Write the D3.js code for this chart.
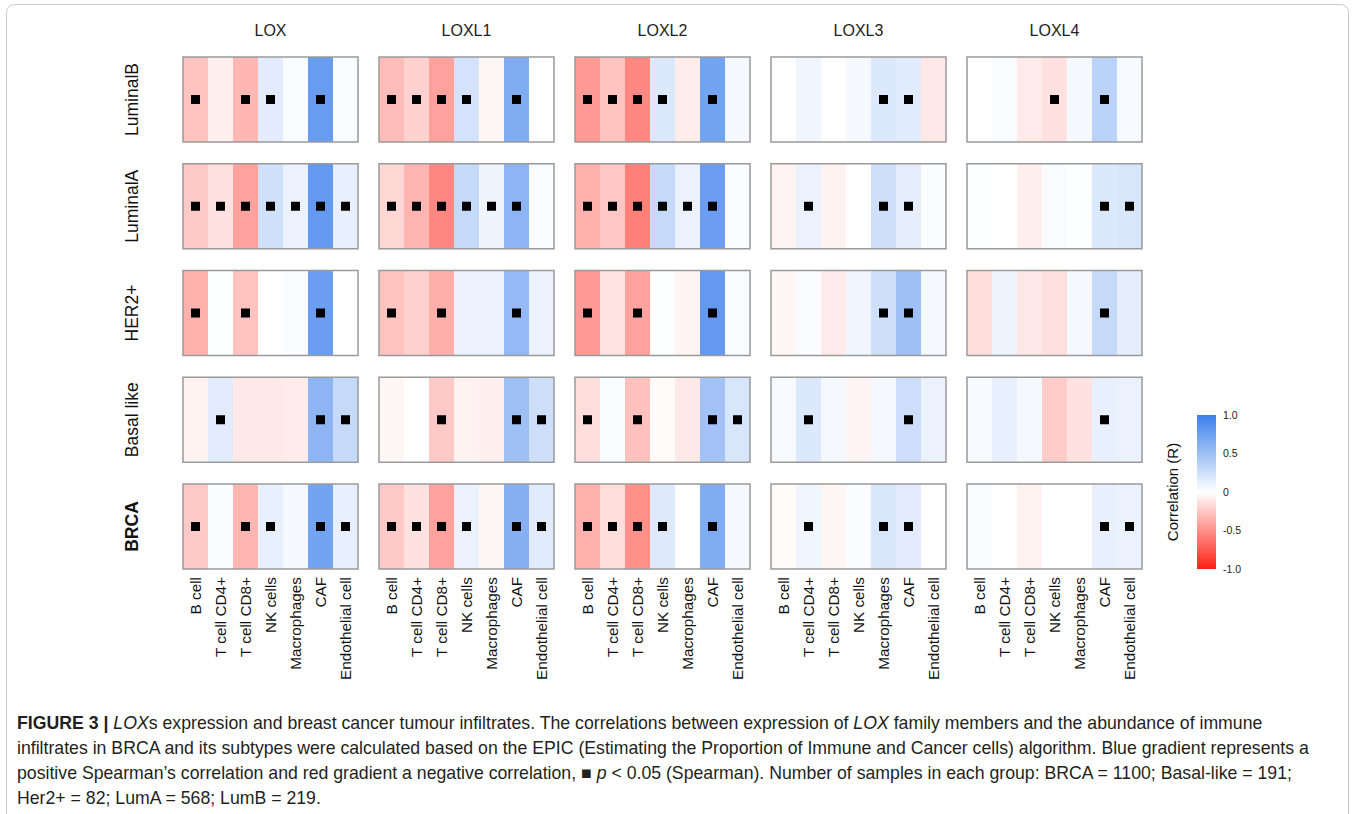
<!DOCTYPE html>
<html><head><meta charset="utf-8">
<script src="https://cdn.jsdelivr.net/npm/d3@7"></script>
<style>
body{margin:0;background:#fff;}
svg text{font-family:"Liberation Sans",Arial,Helvetica,sans-serif;}
</style></head>
<body><svg id="c" width="1355" height="814"></svg>
<script>
const genes = ["LOX","LOXL1","LOXL2","LOXL3","LOXL4"];
const subtypes = ["LuminalB","LuminalA","HER2+","Basal like","BRCA"];
const cells = ["B cell","T cell CD4+","T cell CD8+","NK cells","Macrophages","CAF","Endothelial cell"];
const legendTicks = [1.0,0.5,0,-0.5,-1.0];
const legendTickLabels = ["1.0","0.5","0","-0.5","-1.0"];

// correlation values [subtype][gene][cell]
const rLuminalB = [
  [-0.27,-0.07,-0.32, 0.15, 0.03, 0.78, 0.02],
  [-0.30,-0.20,-0.42, 0.22,-0.04, 0.65, 0.00],
  [-0.45,-0.27,-0.53, 0.18,-0.08, 0.72, 0.05],
  [ 0.00, 0.07, 0.00, 0.05, 0.18, 0.16,-0.10],
  [ 0.00, 0.02,-0.09,-0.13, 0.05, 0.35, 0.04]];
const rLuminalA = [
  [-0.24,-0.13,-0.42, 0.24, 0.10, 0.80, 0.12],
  [-0.18,-0.33,-0.53, 0.30, 0.08, 0.58, 0.03],
  [-0.35,-0.25,-0.57, 0.30, 0.10, 0.76, 0.02],
  [-0.05, 0.10,-0.06, 0.00, 0.25, 0.13, 0.02],
  [ 0.01, 0.00,-0.07, 0.03, 0.01, 0.18, 0.20]];
const rHER2 = [
  [-0.35, 0.01,-0.27, 0.00, 0.02, 0.76, 0.00],
  [-0.27,-0.20,-0.36, 0.10, 0.10, 0.55, 0.10],
  [-0.45,-0.12,-0.42, 0.01,-0.05, 0.80, 0.03],
  [-0.04, 0.02,-0.09, 0.07, 0.25, 0.50, 0.05],
  [-0.15, 0.09,-0.10,-0.14, 0.05, 0.30, 0.13]];
const rBasal = [
  [-0.06, 0.15,-0.10,-0.10,-0.09, 0.58, 0.30],
  [-0.04, 0.00,-0.24,-0.06,-0.07, 0.50, 0.25],
  [-0.15, 0.02,-0.28,-0.02,-0.10, 0.47, 0.20],
  [ 0.04, 0.18, 0.05,-0.05, 0.05, 0.26, 0.10],
  [ 0.04, 0.12, 0.05,-0.23,-0.13, 0.12, 0.10]];
const rBRCA = [
  [-0.24, 0.02,-0.33, 0.12, 0.05, 0.72, 0.12],
  [-0.24,-0.13,-0.42, 0.10,-0.04, 0.62, 0.16],
  [-0.35,-0.15,-0.50, 0.17, 0.00, 0.65, 0.05],
  [-0.02, 0.07,-0.04, 0.02, 0.20, 0.15, 0.00],
  [ 0.03, 0.00,-0.06, 0.00, 0.00, 0.12, 0.10]];

// significance (p<0.05) flags [subtype][gene][cell]
const sLuminalB = [
  [1,0,1,1,0,1,0],[1,1,1,1,0,1,0],[1,1,1,1,0,1,0],[0,0,0,0,1,1,0],[0,0,0,1,0,1,0]];
const sLuminalA = [
  [1,1,1,1,1,1,1],[1,1,1,1,1,1,0],[1,1,1,1,1,1,0],[0,1,0,0,1,1,0],[0,0,0,0,0,1,1]];
const sHER2 = [
  [1,0,1,0,0,1,0],[1,0,1,0,0,1,0],[1,0,1,0,0,1,0],[0,0,0,0,1,1,0],[0,0,0,0,0,1,0]];
const sBasal = [
  [0,1,0,0,0,1,1],[0,0,1,0,0,1,1],[1,0,1,0,0,1,1],[0,1,0,0,0,1,0],[0,0,0,0,0,1,0]];
const sBRCA = [
  [1,0,1,1,0,1,1],[1,1,1,1,0,1,1],[1,1,1,1,0,1,0],[0,1,0,0,1,1,0],[0,0,0,0,0,1,1]];

const rAll = [rLuminalB, rLuminalA, rHER2, rBasal, rBRCA];
const sAll = [sLuminalB, sLuminalA, sHER2, sBasal, sBRCA];

const svg = d3.select("#c");

// outer frame
svg.append("rect").attr("x",6.5).attr("y",4.5).attr("width",1342).attr("height",830)
  .attr("rx",8).attr("fill","none").attr("stroke","#c8c8c8").attr("stroke-width",1);

const color = d3.scaleLinear().domain([-1,0,1])
  .range(["rgb(255,32,20)","#ffffff","rgb(60,128,235)"]).interpolate(d3.interpolateRgb);

const panelW = 175, panelH = 85;
const gx = d3.scaleBand().domain(genes).range([183, 183 + 5*panelW + 4*21]).paddingInner(21/196).paddingOuter(0);
const gy = d3.scaleBand().domain(subtypes).range([57, 57 + 5*panelH + 4*21.75]).paddingInner(21.75/106.75).paddingOuter(0);
const cx = d3.scaleBand().domain(cells).range([0, gx.bandwidth()]);

subtypes.forEach((st, si) => {
  genes.forEach((g, gi) => {
    const p = svg.append("g").attr("transform", `translate(${gx(g)},${gy(st)})`);
    p.selectAll("rect.cell").data(cells).enter().append("rect")
      .attr("x", c => cx(c)).attr("y", 0)
      .attr("width", cx.bandwidth()+0.3).attr("height", gy.bandwidth())
      .attr("fill", (c, ci) => color(rAll[si][gi][ci]));
    p.selectAll("rect.sig").data(cells.filter((c, ci) => sAll[si][gi][ci])).enter().append("rect")
      .attr("x", c => cx(c) + cx.bandwidth()/2 - 4.5).attr("y", gy.bandwidth()/2 - 4.5)
      .attr("width", 9).attr("height", 9).attr("fill", "#000");
    p.append("rect").attr("x",0).attr("y",0).attr("width",gx.bandwidth()).attr("height",gy.bandwidth())
      .attr("fill","none").attr("stroke","#9a9a9a").attr("stroke-width",1.5);
  });
});

// column titles
svg.selectAll("text.gene").data(genes).enter().append("text")
  .attr("x", g => gx(g) + gx.bandwidth()/2).attr("y", 36)
  .attr("text-anchor","middle").attr("font-size",16).attr("fill","#222").text(g => g);

// row labels
svg.selectAll("text.st").data(subtypes).enter().append("text")
  .attr("transform", s => `translate(138,${gy(s)+gy.bandwidth()/2}) rotate(-90)`)
  .attr("text-anchor","middle").attr("font-size",17.5)
  .attr("font-weight", s => s === "BRCA" ? "bold" : "normal")
  .attr("fill","#111").text(s => s);

// x tick labels via axis
genes.forEach(g => {
  const ax = d3.axisBottom(cx).tickSize(0).tickPadding(0);
  const gg = svg.append("g").attr("transform", `translate(${gx(g)},${gy("BRCA")+gy.bandwidth()})`).call(ax);
  gg.select(".domain").remove();
  gg.selectAll("text").attr("transform","rotate(-90)").attr("x",-8).attr("y",0).attr("dy","0.35em")
    .attr("text-anchor","end").attr("font-size",15.3).attr("fill","#111")
    .attr("font-family",'"Liberation Sans",Arial,sans-serif');
});

// legend
const defs = svg.append("defs");
const grad = defs.append("linearGradient").attr("id","lg").attr("x1",0).attr("y1",1).attr("x2",0).attr("y2",0);
d3.range(0,1.0001,0.1).forEach(t => {
  grad.append("stop").attr("offset", t).attr("stop-color", color(-1 + 2*t));
});
const ly = d3.scaleLinear().domain([-1,1]).range([569,415]);
svg.append("rect").attr("x",1197).attr("y",ly(1)).attr("width",19).attr("height",ly(-1)-ly(1)).attr("fill","url(#lg)");
const lax = d3.axisRight(ly).tickValues(legendTicks).tickSize(0).tickPadding(7)
  .tickFormat((d,i) => legendTickLabels[i]);
const lg = svg.append("g").attr("transform","translate(1216,0)").call(lax);
lg.select(".domain").remove();
lg.selectAll("text").attr("font-size",10.5).attr("fill","#222").attr("font-family",'"Liberation Sans",Arial,sans-serif');
svg.append("text").attr("transform",`translate(1178,${ly(0)}) rotate(-90)`).attr("text-anchor","middle")
  .attr("font-size",15).attr("fill","#111").text("Correlation (R)");

// caption
const cap = svg.append("text").attr("font-size",17.7).attr("fill","#231f20");
const lines = [
  [["FIGURE 3 | ","b"],["LOX","i"],["s expression and breast cancer tumour infiltrates. The correlations between expression of ",""],["LOX","i"],[" family members and the abundance of immune",""]],
  [["infiltrates in BRCA and its subtypes were calculated based on the EPIC (Estimating the Proportion of Immune and Cancer cells) algorithm. Blue gradient represents a",""]],
  [["positive Spearman’s correlation and red gradient a negative correlation, ■ ",""],["p","i"],[" < 0.05 (Spearman). Number of samples in each group: BRCA = 1100; Basal-like = 191;",""]],
  [["Her2+ = 82; LumA = 568; LumB = 219.",""]]
];
lines.forEach((ln, li) => {
  ln.forEach((seg, k) => {
    const t = cap.append("tspan").text(seg[0]);
    if (k === 0) t.attr("x",17).attr("y",729 + li*25);
    if (seg[1] === "b") t.attr("font-weight","bold");
    if (seg[1] === "i") t.attr("font-style","italic");
  });
});
</script></body></html>
